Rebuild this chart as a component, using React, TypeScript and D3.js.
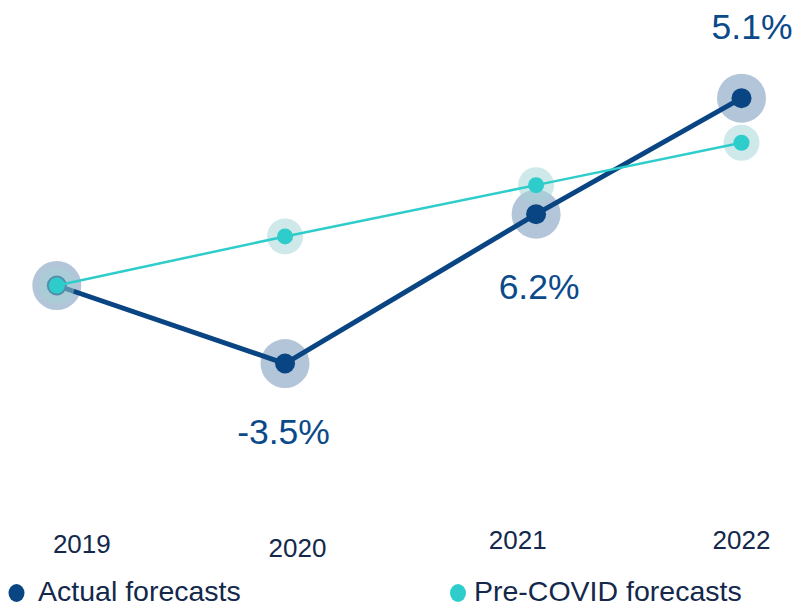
import React from "react";
import * as d3 from "d3";

const years = [2019, 2020, 2021, 2022];
// horizontal placement of each point in year units
const xPositions = [2019, 2020, 2021.1, 2022];
// index level (2019 = 100)
const actual = [100, 96.5, 103.2, 108.4];
const preCovid = [100, 102.2, 104.5, 106.4];
const growthLabels = [
  { year: 2020, text: "-3.5%" },
  { year: 2021, text: "6.2%" },
  { year: 2022, text: "5.1%" },
];
const seriesNames = ["Actual forecasts", "Pre-COVID forecasts"];

const W = 800;
const H = 607;
const NAVY = "#0a4583";
const CYAN = "#2ecdcb";
const AXIS_TEXT = "#13284b";
const FONT = "'Liberation Sans', Arial, sans-serif";

// layout offsets (pixels)
const labelOffsets: Record<number, [number, number]> = {
  2020: [-1.5, 80],
  2021: [3, 85],
  2022: [10.5, -59],
};
const tickOffsets = [
  [25, 553],
  [12.5, 557],
  [4.5, 549],
  [0, 549],
];

export default function App() {
  const x = d3.scaleLinear().domain([2019, 2022]).range([56.8, 741.5]);
  const y = d3.scaleLinear().domain([90, 110]).range([508.5, 62.5]);

  const ptsA = years.map((yr, i) => ({ x: x(xPositions[i]), y: y(actual[i]) }));
  const ptsC = years.map((yr, i) => ({ x: x(xPositions[i]), y: y(preCovid[i]) }));
  const line = d3
    .line<{ x: number; y: number }>()
    .x((d) => d.x)
    .y((d) => d.y);

  return (
    <div style={{ position: "absolute", left: 0, top: 0 }}>
      <svg width={W} height={H} style={{ display: "block", fontFamily: FONT }}>
        <rect width={W} height={H} fill="#ffffff" />
        {/* actual series */}
        {ptsA.map((p, i) => (
          <circle key={"ha" + i} cx={p.x} cy={p.y} r={24.5} fill={NAVY} fillOpacity={0.31} />
        ))}
        <path d={line(ptsA) || ""} fill="none" stroke={NAVY} strokeWidth={5} strokeLinejoin="round" />
        {ptsA.map((p, i) => (
          <circle key={"ca" + i} cx={p.x} cy={p.y} r={10} fill={NAVY} />
        ))}
        {/* pre-covid series */}
        {ptsC.map((p, i) => (
          <circle key={"hc" + i} cx={p.x} cy={p.y} r={18} fill="#9fd3d5" fillOpacity={0.5} />
        ))}
        <path d={line(ptsC) || ""} fill="none" stroke={CYAN} strokeWidth={2.5} />
        {ptsC.map((p, i) => (
          <circle key={"cc" + i} cx={p.x} cy={p.y} r={8} fill={CYAN} />
        ))}
        {/* growth labels */}
        {growthLabels.map((l) => {
          const i = years.indexOf(l.year);
          const [dx, dy] = labelOffsets[l.year];
          return (
            <text
              key={l.text}
              x={ptsA[i].x + dx}
              y={ptsA[i].y + dy}
              textAnchor="middle"
              fontSize={35.5}
              fill="#0b4a8a"
            >
              {l.text}
            </text>
          );
        })}
        {/* year labels */}
        {years.map((yr, i) => (
          <text
            key={yr}
            x={x(yr) + tickOffsets[i][0]}
            y={tickOffsets[i][1]}
            textAnchor="middle"
            fontSize={26}
            fill={AXIS_TEXT}
          >
            {yr}
          </text>
        ))}
        {/* legend */}
        <ellipse cx={16.5} cy={593} rx={8} ry={9} fill={NAVY} />
        <text x={38} y={601} fontSize={28.5} fill={AXIS_TEXT}>
          {seriesNames[0]}
        </text>
        <ellipse cx={458} cy={593} rx={8} ry={9} fill={CYAN} />
        <text x={474} y={601} fontSize={28.5} fill={AXIS_TEXT}>
          {seriesNames[1]}
        </text>
      </svg>
    </div>
  );
}
